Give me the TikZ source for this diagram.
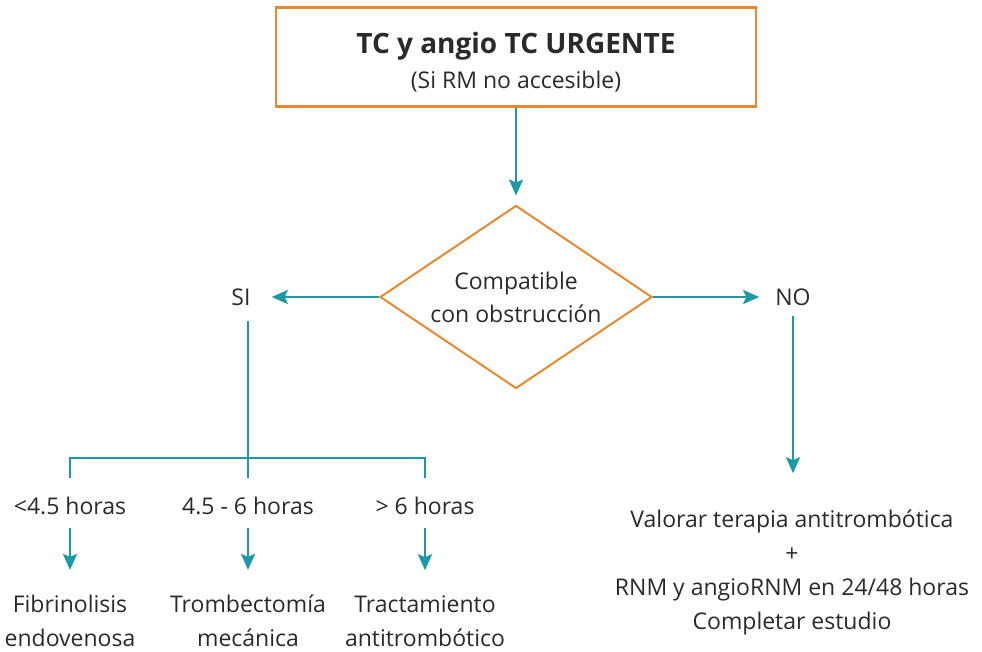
\documentclass[tikz,border=0pt]{standalone}
\usepackage{fontspec}
\setmainfont{Open Sans}
\usetikzlibrary{shapes.geometric,arrows.meta}
\definecolor{naranja}{HTML}{E8892F}
\definecolor{turquesa}{HTML}{1B9AA6}
\definecolor{texto}{HTML}{2A2A2A}
\begin{document}
\begin{tikzpicture}[x=1pt,y=-1pt]
  \tikzstyle{every node}=[text=texto,font=\fontsize{23}{34}\selectfont,inner sep=0pt,align=center]
  \tikzstyle{caja}=[draw=naranja,line width=2.6pt,minimum width=480pt,minimum height=99pt]
  \tikzstyle{rombo}=[draw=naranja,line width=2pt,diamond,aspect=1.49,minimum width=272pt,minimum height=183pt]
  \tikzstyle{tiempo}=[inner ysep=14pt,text height=22pt,text depth=0pt]
  \tikzstyle{linea}=[draw=turquesa,line width=2.4pt]
  \tikzstyle{flecha}=[linea,-{Stealth[length=16pt,width=14pt,inset=3pt]}]
  \useasboundingbox (0,0) rectangle (982,652);
  \node[caja] (tc) at (516,57) {{\fontsize{28}{34}\selectfont\bfseries\rule{0pt}{31pt}TC y angio TC URGENTE}\\[1pt](Si RM no accesible)};
  \node[rombo] (comp) at (516,297) {Compatible\\[-1pt]con obstrucción};
  \node (si) at (241,297) {SI};
  \node (no) at (793,297) {NO};
  \node[tiempo] (h1) at (70,503) {<4.5 horas};
  \node[tiempo] (h2) at (248,503) {4.5 - 6 horas};
  \node[tiempo] (h3) at (425,503) {> 6 horas};
  \node (r1) at (70,621) {Fibrinolisis\\endovenosa};
  \node (r2) at (248,621) {Trombectomía\\mecánica};
  \node (r3) at (425,621) {Tractamiento\\antitrombótico};
  \node (rn) at (792,572) {Valorar terapia antitrombótica\\+\\RNM y angioRNM en 24/48 horas\\Completar estudio};
  \coordinate (ramal) at (248,458);
  \draw[flecha,shorten >=9pt] (tc.south) -- (comp.north);
  \draw[flecha,shorten >=21pt] (comp.west) -- (si.east);
  \draw[flecha,shorten >=16pt] (comp.east) -- (no.west);
  \draw[linea,shorten <=15pt] (si.south -| ramal) -- (h2.north);
  \draw[linea] (h1.north) |- (ramal) -| (h3.north);
  \draw[flecha,shorten >=25pt] (h1.south) -- (r1.north);
  \draw[flecha,shorten >=25pt] (h2.south) -- (r2.north);
  \draw[flecha,shorten >=25pt] (h3.south) -- (r3.north);
  \draw[flecha,shorten <=10pt,shorten >=36pt] (no.south) -- (rn.north -| no.south);
\end{tikzpicture}
\end{document}
